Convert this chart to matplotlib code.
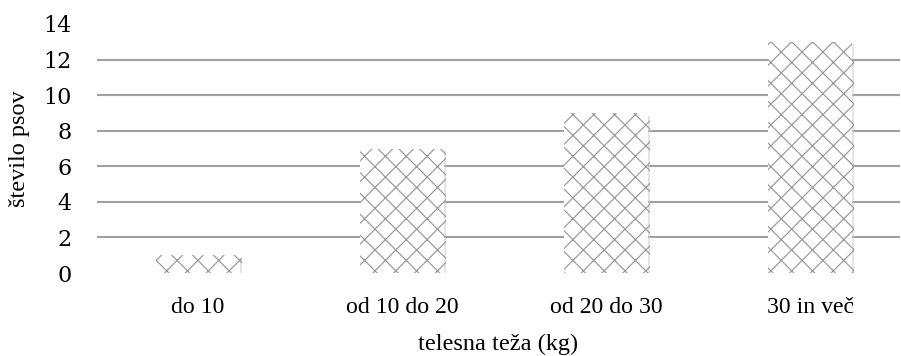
import matplotlib
matplotlib.use("Agg")
import matplotlib.pyplot as plt
import matplotlib.patheffects as pe

categories = ["do 10", "od 10 do 20", "od 20 do 30", "30 in več"]
counts = [1, 7, 9, 13]
yticks = [0, 2, 4, 6, 8, 10, 12, 14]

plt.rcParams["font.family"] = ["Liberation Serif", "DejaVu Serif"]
plt.rcParams["hatch.linewidth"] = 0.7

DPI = 125
fig = plt.figure(figsize=(901 / DPI, 356 / DPI), dpi=DPI)
ax = fig.add_axes([97 / 901, 83 / 356, 803 / 901, 249 / 356])

x = list(range(len(categories)))
bars = ax.bar(x, counts, width=0.41, color="white", edgecolor="#9a9a9a",
              linewidth=0, hatch="xx", zorder=3)
for b in bars:
    b.set_path_effects([pe.SimplePatchShadow(offset=(1.5, -1.5),
                                             shadow_rgbFace="#cccccc",
                                             alpha=0.5),
                        pe.Normal()])

ax.set_xlim(-0.495, 3.441)
ax.set_ylim(0, 14)
ax.set_yticks(yticks)
ax.set_xticks(x)
ax.set_xticklabels(categories, fontsize=13.7)
for t in ax.get_yticklabels():
    t.set_fontfamily(["DejaVu Serif"])
ax.tick_params(axis="y", labelsize=12.8, length=0, pad=14.4)
ax.tick_params(axis="x", length=0, pad=14)

ax.yaxis.grid(True, color="#a0a0a0", linewidth=1.2, zorder=0)
ax.set_axisbelow(True)
gl = ax.get_ygridlines()
gl[0].set_visible(False)
gl[-1].set_visible(False)

for s in ax.spines.values():
    s.set_visible(False)

ax.set_ylabel("število psov", fontsize=14, labelpad=8)
ax.set_xlabel("telesna teža (kg)", fontsize=14, labelpad=9)

fig.savefig("out.png", dpi=DPI)
